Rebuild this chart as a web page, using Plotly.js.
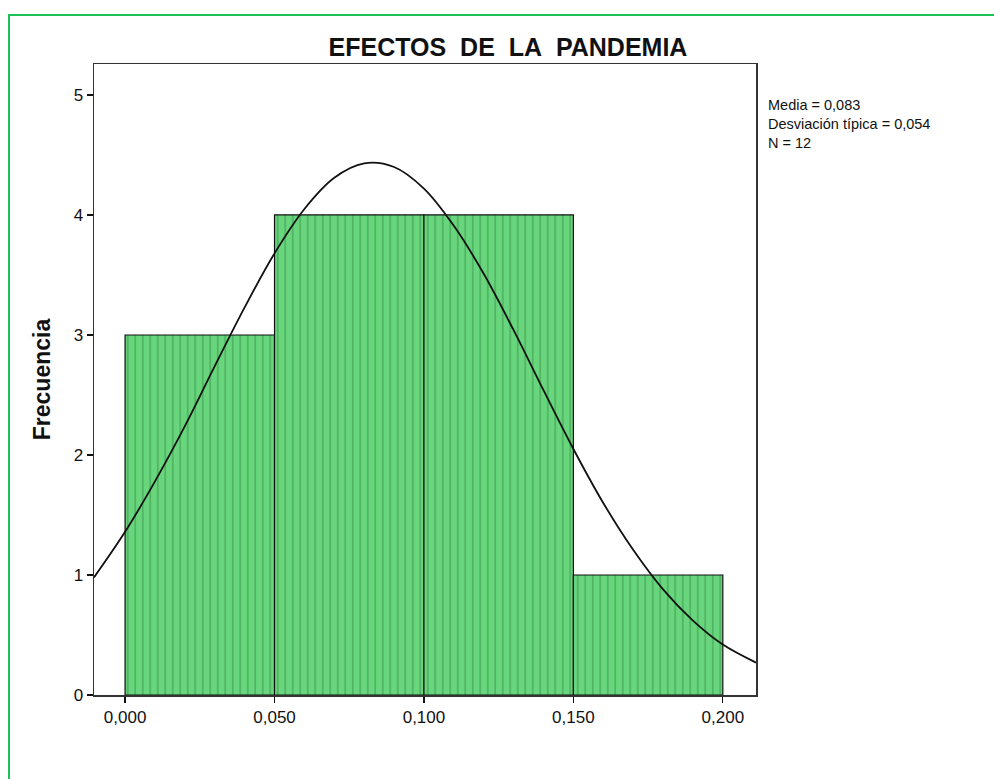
<!DOCTYPE html>
<html>
<head>
<meta charset="utf-8">
<script src="https://cdn.plot.ly/plotly-3.0.1.min.js"></script>
<style>
  html, body { margin: 0; padding: 0; background: #fff; }
  #wrap { position: relative; width: 994px; height: 779px; overflow: hidden; }
  #frame { position: absolute; left: 8px; top: 14px; width: 1000px; height: 800px;
           border-top: 2px solid #1dc257; border-left: 2px solid #1dc257; box-sizing: border-box; pointer-events: none; z-index: 2; }
  #chart { position: absolute; left: 0; top: 0; width: 994px; height: 779px; }
</style>
</head>
<body>
<div id="wrap">
  <div id="chart"></div>
  <div id="frame"></div>
</div>
<script>
// Histogram bins (centres), widths and frequencies
const binCenters = [0.025, 0.075, 0.125, 0.175];
const binWidth = 0.05;
const frequencies = [3, 4, 4, 1];

// Normal curve
const curveX = [-0.0104, 0.00, 0.01, 0.02, 0.03, 0.04, 0.05, 0.06, 0.07, 0.08, 0.09, 0.10, 0.11, 0.12, 0.13, 0.14, 0.15, 0.16, 0.17, 0.18, 0.19, 0.20, 0.2111];
const curveY = [0.98, 1.36, 1.78, 2.24, 2.74, 3.23, 3.68, 4.05, 4.31, 4.43, 4.40, 4.22, 3.91, 3.51, 3.04, 2.54, 2.05, 1.60, 1.21, 0.88, 0.62, 0.42, 0.27];

const xTicks = [0, 0.05, 0.10, 0.15, 0.20];
const xTickLabels = ['0,000', '0,050', '0,100', '0,150', '0,200'];
const yTicks = [0, 1, 2, 3, 4, 5];

const statsLines = ['Media = 0,083', 'Desviación típica = 0,054', 'N = 12'];

const FONT = 'Liberation Sans, Arial, sans-serif';

const traces = [
  {
    type: 'bar',
    x: binCenters,
    y: frequencies,
    width: binCenters.map(() => binWidth),
    marker: {
      color: '#68d67c',
      line: { color: '#111', width: 1.2 },
      pattern: { shape: '|', size: 7.5, solidity: 0.13, bgcolor: '#68d67c', fgcolor: '#2e7a3c', fgopacity: 0.7 }
    },
    hoverinfo: 'skip',
    showlegend: false
  },
  {
    type: 'scatter',
    mode: 'lines',
    x: curveX,
    y: curveY,
    line: { color: '#111', width: 1.8, shape: 'spline', smoothing: 1 },
    hoverinfo: 'skip',
    showlegend: false
  }
];

const annotations = [{
  xref: 'paper', yref: 'paper',
  x: (767 - 94) / 662, y: 1 - (96 - 64) / 631,
  xanchor: 'left', yanchor: 'top', align: 'left',
  text: statsLines.join('<br>'), showarrow: false, borderpad: 0,
  font: { family: FONT, size: 14.5, color: '#111' }
}];

const layout = {
  width: 994, height: 779,
  margin: { l: 94, r: 238, t: 64, b: 84 },
  paper_bgcolor: '#fff', plot_bgcolor: '#fff',
  bargap: 0,
  separators: ',.',
  title: {
    text: 'EFECTOS\u00a0 DE\u00a0 LA\u00a0 PANDEMIA',
    xref: 'container', yref: 'container',
    x: 508 / 994, xanchor: 'center',
    y: 1 - 47 / 779, yanchor: 'middle',
    font: { family: FONT, size: 25, color: '#111', weight: 'bold' }
  },
  xaxis: {
    range: [-0.0104, 0.2111],
    tickvals: xTicks, ticktext: xTickLabels,
    ticks: 'outside', ticklen: 6, tickcolor: '#111', tickwidth: 1.2,
    showline: true, linecolor: '#333', linewidth: 1.5, mirror: true,
    showgrid: false, zeroline: false,
    tickfont: { family: FONT, size: 17, color: '#111' }
  },
  yaxis: {
    range: [0, 5.258],
    tickvals: yTicks,
    ticks: 'outside', ticklen: 6, tickcolor: '#111', tickwidth: 1.2,
    showline: true, linecolor: '#333', linewidth: 1.5, mirror: true,
    showgrid: false, zeroline: false,
    tickfont: { family: FONT, size: 17, color: '#111' },
    title: {
      text: 'Frecuencia', standoff: 16,
      font: { family: FONT, size: 23, color: '#111', weight: 'bold' }
    }
  },
  annotations: annotations
};

Plotly.newPlot('chart', traces, layout, { staticPlot: true, displayModeBar: false });
</script>
</body>
</html>
